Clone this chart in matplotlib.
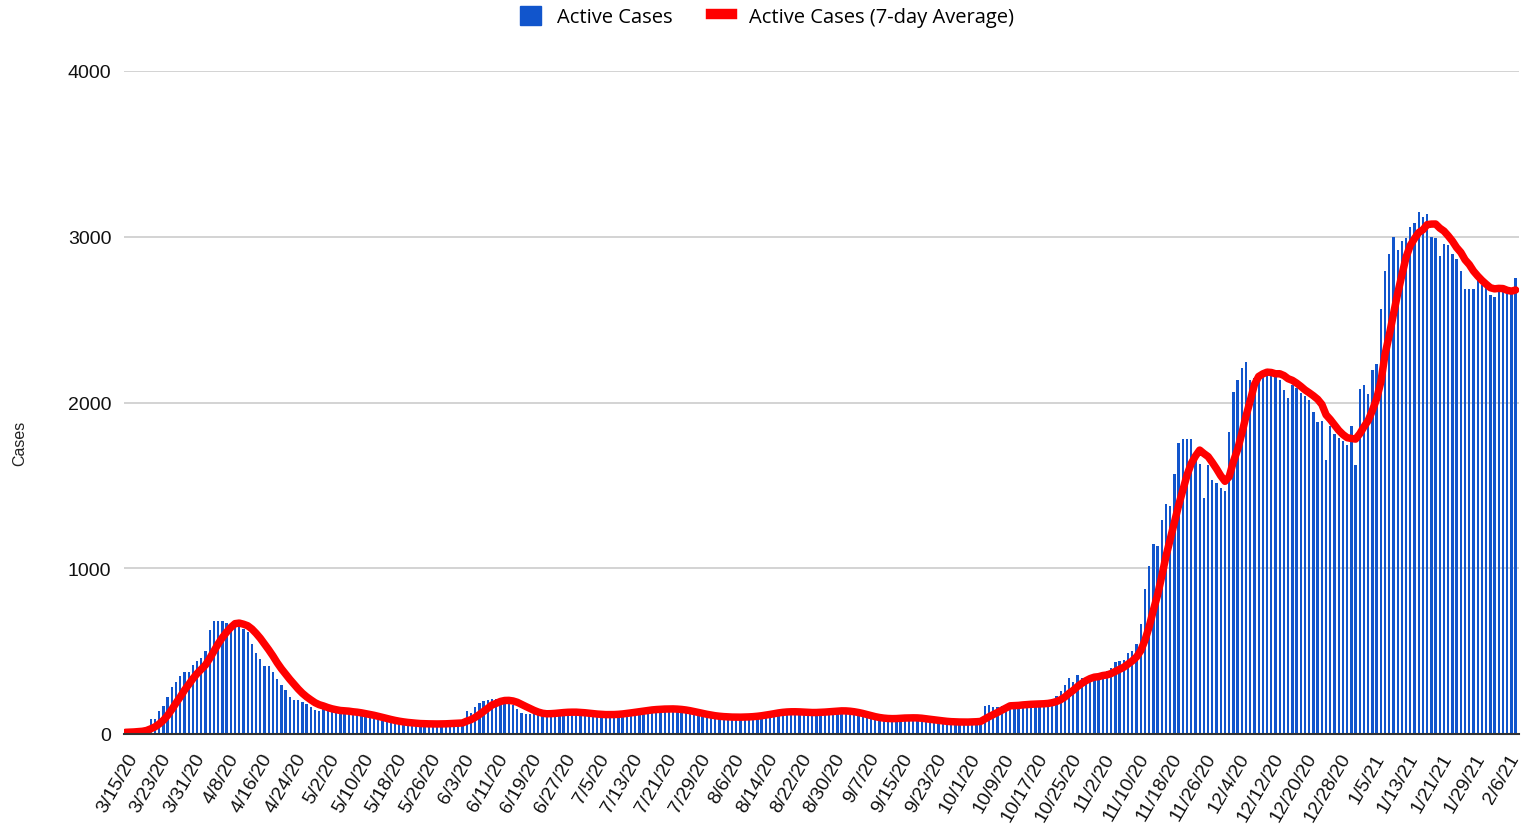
import pandas as pd
import matplotlib
matplotlib.use('Agg')
import matplotlib.pyplot as plt
from matplotlib.patches import Patch
from matplotlib.lines import Line2D
from matplotlib.transforms import ScaledTranslation


# %% DATA - active cases per day, 3/15/20 .. 2/8/21
mar_20 = [10, 12, 15, 20, 25, 45, 92, 92, 136, 170, 225, 281, 315, 349, 375, 375, 419]
apr_20 = [441, 461, 499, 626, 682, 682, 682, 670, 662, 656, 650, 636, 616, 546, 486,
          452, 410, 410, 375, 331, 293, 265, 225, 205, 205, 195, 181, 165, 145, 141]
may_20 = [151, 140, 142, 142, 132, 130, 128, 125, 122, 115, 108, 100, 92, 86, 80, 76,
          72, 68, 66, 64, 63, 62, 60, 58, 60, 62, 60, 62, 64, 64, 66]
jun_20 = [68, 70, 72, 140, 125, 160, 185, 200, 205, 210, 210, 205, 200, 190, 175,
          150, 125, 120, 118, 118, 120, 125, 128, 130, 132, 135, 135, 132, 130, 128]
jul_20 = [120, 118, 116, 115, 115, 117, 118, 119, 121, 126, 131, 136, 141, 143, 146,
          148, 151, 151, 152, 152, 153, 151, 149, 143, 137, 130, 122, 117, 112, 109, 106]
aug_20 = [104, 101, 101, 101, 101, 101, 102, 104, 106, 107, 112, 117, 123, 129, 133,
          137, 139, 136, 133, 131, 130, 128, 127, 128, 130, 134, 138, 140, 142, 143, 143]
sep_20 = [137, 132, 125, 117, 111, 104, 97, 90, 87, 90, 92, 95, 98, 100, 101,
          98, 96, 94, 92, 85, 79, 77, 75, 74, 73, 72, 71, 71, 71, 72]
oct_20 = [74, 78, 81, 84, 170, 172, 160, 165, 170, 175, 178, 180, 180, 180, 180, 182,
          182, 185, 188, 195, 210, 230, 260, 295, 340, 316, 355, 340, 345, 350, 355]
nov_20 = [360, 365, 380, 400, 433, 440, 445, 490, 500, 545, 664, 873, 1011, 1145, 1135,
          1294, 1386, 1376, 1570, 1753, 1780, 1780, 1780, 1700, 1627, 1424, 1623, 1533, 1512, 1487]
dec_20 = [1466, 1822, 2064, 2133, 2210, 2246, 2136, 2150, 2160, 2175, 2205, 2195, 2192,
          2137, 2074, 2026, 2106, 2090, 2058, 2040, 2017, 1945, 1880, 1889, 1651, 1860,
          1812, 1788, 1769, 1745, 1856]
jan_21 = [1625, 2084, 2108, 2053, 2197, 2233, 2563, 2795, 2895, 3000, 2921, 2976, 2990,
          3059, 3083, 3148, 3119, 3136, 3000, 2993, 2885, 2957, 2948, 2895, 2864, 2795,
          2683, 2683, 2683, 2739, 2710]
feb_21 = [2703, 2647, 2635, 2703, 2674, 2667, 2674, 2751]

cases = mar_20 + apr_20 + may_20 + jun_20 + jul_20 + aug_20 + sep_20 + oct_20 + \
        nov_20 + dec_20 + jan_21 + feb_21

dates = pd.date_range('2020-03-15', periods=len(cases), freq='D')
x = range(len(cases))

# 7-day (trailing) average of the daily values
avg7 = pd.Series(cases).rolling(7, min_periods=1).mean()

tick_pos = list(range(0, len(cases), 8))
tick_lab = ['%d/%d/%d' % (d.month, d.day, d.year % 100) for d in dates[tick_pos]]

BLUE = '#1155cc'
RED = '#ff0000'

# %% PLOTTING
fig = plt.figure(figsize=(15.23, 8.29), dpi=100)
ax = fig.add_axes([124/1523, 94/829, 1395/1523, 663/829])

ax.bar(x, cases, width=0.55, color=BLUE, zorder=2)
ax.plot(x, avg7, color=RED, lw=5.4, solid_capstyle='round', solid_joinstyle='round', zorder=3)

ax.set_xlim(-0.36, 330.8)
ax.set_ylim(0, 4000)
ax.set_yticks([0, 1000, 2000, 3000, 4000])
ax.grid(axis='y', color='#cccccc', lw=1.2)
ax.set_axisbelow(True)

for s in ['top', 'right', 'left']:
    ax.spines[s].set_visible(False)
ax.spines['bottom'].set_color('#333333')
ax.spines['bottom'].set_linewidth(1.5)
ax.spines['bottom'].set_zorder(4)

ax.tick_params(axis='both', length=0, labelsize=14, colors='#111111')
ax.tick_params(axis='y', pad=9)
ax.tick_params(axis='x', pad=11)
for lab in ax.get_yticklabels():
    lab.set_family('Liberation Sans')
ax.set_xticks(tick_pos)
ax.set_xticklabels(tick_lab, rotation=60, ha='right', va='center', rotation_mode='anchor',
                   family='Liberation Sans')
# nudge the rotated labels so their ends sit just right of the ticks
shift = ScaledTranslation(8/100, -5/100, fig.dpi_scale_trans)
for lab in ax.get_xticklabels():
    lab.set_transform(lab.get_transform() + shift)

fig.text(20/1523, 1 - 443/829, 'Cases', rotation=90, ha='center', va='center',
         fontsize=11.5, color='#222222', family='Liberation Sans')

handles = [Patch(facecolor=BLUE, edgecolor=BLUE),
           Line2D([0], [0], color=RED, lw=7.5)]
fig.legend(handles, ['Active Cases', 'Active Cases (7-day Average)'],
           loc='upper center', bbox_to_anchor=(0.5035, 1.014), ncol=2, frameon=False,
           prop={'family': 'Open Sans', 'size': 14.5}, handlelength=1.05, handleheight=1.1,
           columnspacing=1.9, handletextpad=0.8)

fig.savefig('out.png', dpi=100)
